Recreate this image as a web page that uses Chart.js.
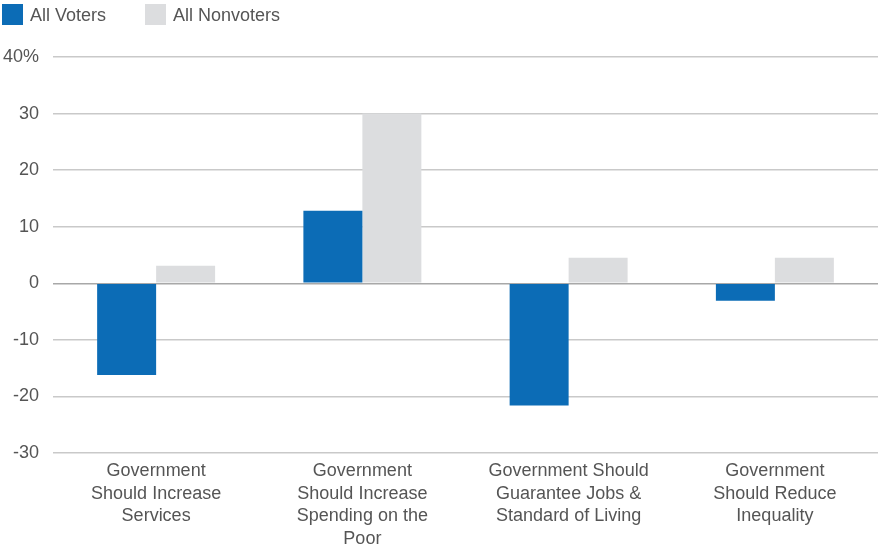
<!DOCTYPE html>
<html>
<head>
<meta charset="utf-8">
<script src="https://cdn.jsdelivr.net/npm/chart.js@4"></script>
<style>
  html, body { margin: 0; padding: 0; background: #fff; }
  #wrap { position: relative; width: 878px; height: 545px; }
  #legend { position: absolute; left: 0; top: 0; font: 18px "Liberation Sans", Arial, sans-serif; color: #555; }
  .item { position: absolute; top: 4px; white-space: nowrap; }
  .box { position: absolute; top: 0; width: 21px; height: 21px; }
  .lbl { position: absolute; left: 28px; top: 1px; line-height: 21px; }
</style>
</head>
<body>
<div id="wrap">
  <canvas id="chart" width="878" height="545"></canvas>
  <div id="legend"></div>
</div>
<script>
const categories = [
  ['Government', 'Should Increase', 'Services'],
  ['Government', 'Should Increase', 'Spending on the', 'Poor'],
  ['Government Should', 'Guarantee Jobs &', 'Standard of Living'],
  ['Government', 'Should Reduce', 'Inequality']
]
const voters = [-16.2, 12.8, -21.6, -3.1]
const nonvoters = [3.1, 30, 4.5, 4.5]
const seriesNames = ['All Voters', 'All Nonvoters']
const seriesColors = ['#0c6cb6', '#dcdddf']

// legend in html, laid out like the original
const legendX = [2, 145]
const legend = document.getElementById('legend')
seriesNames.forEach((name, i) => {
  const item = document.createElement('div')
  item.className = 'item'
  item.style.left = legendX[i] + 'px'
  item.innerHTML = '<span class="box" style="background:' + seriesColors[i] + '"></span><span class="lbl">' + name + '</span>'
  legend.appendChild(item)
})

new Chart(document.getElementById('chart'), {
  type: 'bar',
  data: {
    labels: categories,
    datasets: [
      {
        label: seriesNames[0],
        data: voters,
        backgroundColor: seriesColors[0],
        categoryPercentage: 0.572,
        barPercentage: 1
      },
      {
        label: seriesNames[1],
        data: nonvoters,
        backgroundColor: seriesColors[1],
        categoryPercentage: 0.572,
        barPercentage: 1
      }
    ]
  },
  options: {
    responsive: false,
    animation: false,
    layout: { padding: { top: 57, right: 0, bottom: 0, left: 0 } },
    plugins: {
      legend: { display: false },
      tooltip: { enabled: false }
    },
    scales: {
      x: {
        grid: { display: false, drawTicks: false },
        border: { display: false },
        ticks: {
          color: '#555',
          padding: 7,
          maxRotation: 0,
          autoSkip: false,
          font: { family: '"Liberation Sans", Arial, sans-serif', size: 18, lineHeight: 1.25 }
        },
        afterFit: (scale) => { scale.height = 92 }
      },
      y: {
        min: -30,
        max: 40,
        border: { display: false },
        grid: {
          drawTicks: false,
          lineWidth: 1.5,
          color: (ctx) => ctx.tick && ctx.tick.value === 0 ? '#a8a8a8' : '#c9c9c9'
        },
        ticks: {
          stepSize: 10,
          color: '#555',
          padding: 14,
          font: { family: '"Liberation Sans", Arial, sans-serif', size: 18 },
          callback: (v) => v === 40 ? '40%' : v
        },
        afterFit: (scale) => { scale.width = 53 }
      }
    }
  }
})
</script>
</body>
</html>
